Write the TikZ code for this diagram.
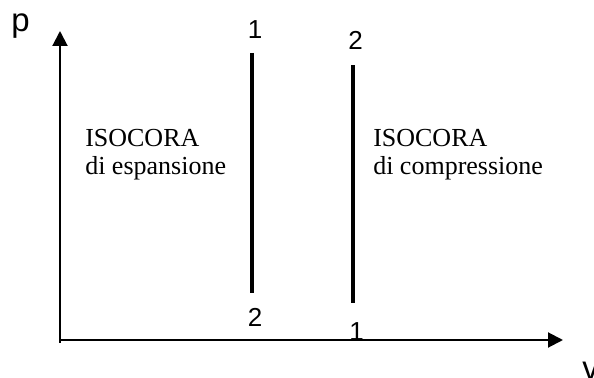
\documentclass[tikz,border=0pt]{standalone}
\usepackage{fontspec}
\setmainfont{Liberation Serif}
\newfontfamily\arialfont{Liberation Sans}
\usetikzlibrary{arrows.meta}
\begin{document}
\begin{tikzpicture}[x=0.75pt, y=-0.75pt, >={Triangle[length=11.25pt,width=11.25pt]},
  every node/.style={inner sep=0pt},
  axislabel/.style={font=\arialfont\fontsize{24.75pt}{26pt}\selectfont, anchor=base west},
  pointlabel/.style={font=\arialfont\fontsize{19.5pt}{21pt}\selectfont, anchor=base},
  caption/.style={font=\fontsize{19.5pt}{21pt}\selectfont, anchor=base west},
  isochore/.style={line width=3pt}]
  \useasboundingbox (0, 0) rectangle (594, 378);
  \coordinate (O) at (60, 340); \coordinate (pend) at (60, 31);
  \coordinate (vend) at (563, 340);
  \draw[line width=1.5pt] (60, 343) -- (O);
  \draw[->, line width=1.5pt] (O) -- (pend);
  \draw[->, line width=1.5pt] (O) -- (vend);
  \node[axislabel] (p) at (11, 32) {p};
  \node[axislabel] (v) at (582, 379) {v};
  % isocore
  \coordinate (e1) at (252, 53); \coordinate (e2) at (252, 293);
  \coordinate (c1) at (353, 303); \coordinate (c2) at (353, 65);
  \draw[isochore] (e1) -- (e2);
  \draw[isochore] (c1) -- (c2);
  \foreach \p/\n/\m in {(255, 39)/1/le1, (255, 327)/2/le2,
                        (356.5, 341)/1/lc1, (355.5, 50)/2/lc2}
    { \node[pointlabel] (\m) at \p {\n}; }
  \node[caption] (espA) at (85, 147) {ISOCORA};
  \node[caption] (espB) at (85, 175) {di espansione};
  \node[caption] (comA) at (373, 147) {ISOCORA};
  \node[caption] (comB) at (373, 175) {di compressione};
\end{tikzpicture}
\end{document}
